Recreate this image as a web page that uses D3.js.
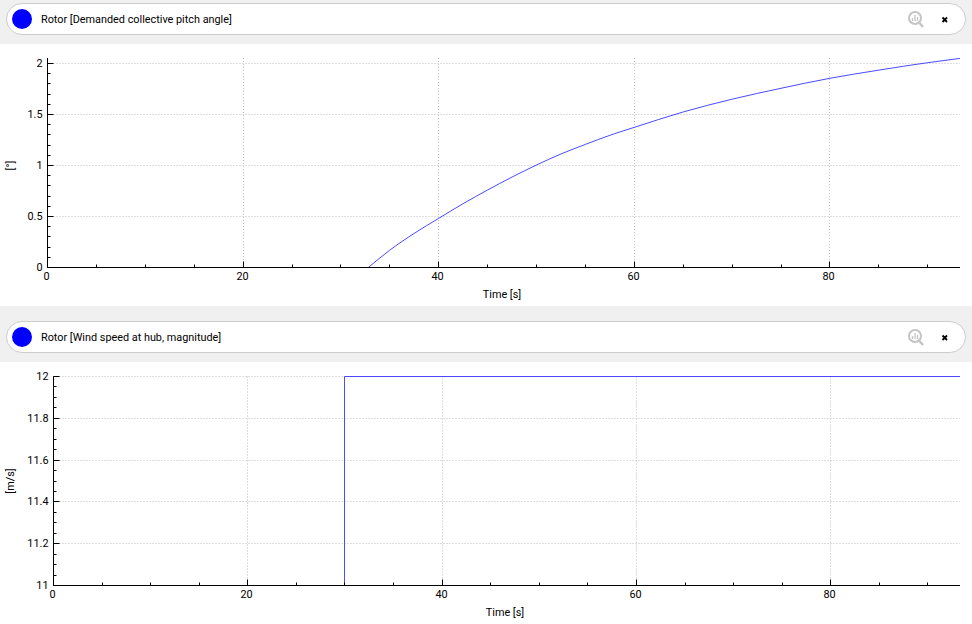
<!DOCTYPE html>
<html lang="en">
<head>
    <meta charset="UTF-8">
    <title>Rotor plots</title>
    <style>
        html, body { margin: 0; padding: 0; background: #f0f0f0; overflow: hidden; }
        text { font-family: Roboto, sans-serif; font-size: 10.85px; fill: #000; }
    </style>
</head>
<body>
<div id="content"></div>

<script src="https://d3js.org/d3.v4.min.js"></script>
<script>

    // values
    var pitchTime = [32.8, 35, 37.5, 40, 42.5, 45, 47.5, 50, 52.5, 55, 57.5, 60, 65, 70, 75, 80, 85, 90, 93.3];
    var pitchValue = [0, 0.17, 0.335, 0.482, 0.626, 0.76, 0.887, 1.005, 1.113, 1.207, 1.296, 1.374, 1.525, 1.65, 1.757, 1.855, 1.935, 2.008, 2.05];
    var windTime = [0, 29.95, 29.95, 93.3];
    var windValue = [11, 11, 12, 12];

    var xMajor = [0, 20, 40, 60, 80];
    var pitchTicks = [0, 0.5, 1, 1.5, 2];
    var windTicks = [11, 11.2, 11.4, 11.6, 11.8, 12];

    var width = 972, height = 624;

    var svg = d3.select("#content")
        .append("svg")
        .attr("width", width)
        .attr("height", height)
        .style("display", "block");

    svg.append("rect")
        .attr("width", width)
        .attr("height", height)
        .attr("fill", "#f0f0f0");

    function range(from, to, step) {
        var out = [];
        for (var v = from; v <= to + step / 1000; v += step) out.push(+v.toFixed(4));
        return out;
    }

    // keep 1px lines on the pixel grid so the dots stay crisp
    function snap(v) {
        return Math.floor(v) + 0.5;
    }

    function createHeader(top, label) {
        var g = svg.append("g").attr("transform", "translate(0," + top + ")");

        g.append("rect")
            .attr("x", 6.5).attr("y", 0.5)
            .attr("width", 959).attr("height", 31)
            .attr("rx", 15.5)
            .attr("fill", "#fff")
            .attr("stroke", "#cdcdcd");

        g.append("circle")
            .attr("cx", 22).attr("cy", 16).attr("r", 10)
            .attr("fill", "#0000ff");

        g.append("text")
            .attr("x", 41).attr("y", 20)
            .text(label);

        // zoom icon
        var icon = g.append("g").attr("fill", "none").attr("stroke", "#c4c4c4");
        icon.append("circle").attr("cx", 915).attr("cy", 15).attr("r", 6).attr("stroke-width", 2);
        icon.append("path").attr("d", "M919.5,20L923,24").attr("stroke-width", 2.4);
        icon.append("path").attr("d", "M912.5,18V15M915,18V12M917.5,18V14").attr("stroke-width", 1.3);

        // close button
        g.append("path")
            .attr("d", "M942.5,14.5L947,19M947,14.5L942.5,19")
            .attr("stroke", "#000")
            .attr("stroke-width", 1.8);
    }

    function createPlot(o) {
        var plot = svg.append("g");

        plot.append("rect")
            .attr("x", 0).attr("y", o.panelTop)
            .attr("width", width).attr("height", o.panelBottom - o.panelTop)
            .attr("fill", "#fff");

        var xScale = d3.scaleLinear().domain([0, 93.3]).range([o.left, 960]);
        var yScale = d3.scaleLinear().domain(o.yDomain).range([o.bottom, o.yTop]);

        // dotted grid
        var grid = plot.append("g")
            .attr("stroke", "#bdbdbd")
            .attr("stroke-dasharray", "1,2")
            .attr("stroke-width", 1);
        xMajor.slice(1).forEach(function (t) {
            grid.append("line")
                .attr("x1", snap(xScale(t))).attr("x2", snap(xScale(t)))
                .attr("y1", o.axisTop).attr("y2", o.bottom);
        });
        o.yTicks.slice(1).forEach(function (t) {
            grid.append("line")
                .attr("x1", o.left).attr("x2", 960)
                .attr("y1", snap(yScale(t))).attr("y2", snap(yScale(t)));
        });

        var line = d3.line()
            .curve(o.smooth ? d3.curveMonotoneX : d3.curveLinear)
            .x(function (d) { return xScale(d.x); })
            .y(function (d) { return yScale(d.y); });

        var xyData = o.xs.map(function (x, i) { return {x: x, y: o.ys[i]}; });

        plot.append("path")
            .datum(xyData)
            .attr("d", line)
            .attr("fill", "none")
            .attr("stroke", "#4a4aff")
            .attr("stroke-width", 1);

        // axes, ticks point into the plot
        var xMinor = d3.axisBottom(xScale).tickValues(range(0, 90, 5)).tickSize(-3).tickFormat("");
        var xAxis = d3.axisBottom(xScale).tickValues(xMajor).tickSize(-6).tickFormat(d3.format("d"));
        var yMinor = d3.axisLeft(yScale).tickValues(o.yMinor).tickSize(-3).tickFormat("");
        var yAxis = d3.axisLeft(yScale).tickValues(o.yTicks).tickSize(-6).tickFormat(d3.format("~g"));

        var xGs = [xMinor, xAxis].map(function (axis) {
            var g = plot.append("g").attr("transform", "translate(0," + o.bottom + ")").call(axis);
            g.selectAll(".tick").attr("transform", function (d) {
                return "translate(" + snap(xScale(d)) + ",0)";
            });
            return g;
        });
        var yGs = [yMinor, yAxis].map(function (axis) {
            var g = plot.append("g").attr("transform", "translate(" + o.left + ",0)").call(axis);
            g.selectAll(".tick").attr("transform", function (d) {
                return "translate(0," + snap(yScale(d)) + ")";
            });
            return g;
        });
        var xG = xGs[1], yG = yGs[1];

        plot.selectAll(".domain").remove();
        plot.append("line")
            .attr("x1", o.left).attr("x2", 960)
            .attr("y1", o.bottom).attr("y2", o.bottom)
            .attr("stroke", "#000");
        plot.append("line")
            .attr("x1", o.left).attr("x2", o.left)
            .attr("y1", o.axisTop).attr("y2", o.bottom)
            .attr("stroke", "#000");

        xG.selectAll("text").attr("x", -1).attr("y", 5).attr("dy", "0.71em");
        yG.selectAll("text").attr("x", -5);
        xG.attr("font-size", null).attr("font-family", null);
        yG.attr("font-size", null).attr("font-family", null);

        plot.append("text")
            .attr("x", o.timeX).attr("y", o.bottom + 30)
            .attr("text-anchor", "middle")
            .text("Time [s]");

        plot.append("text")
            .attr("transform", "translate(14," + (o.yTop + o.bottom) / 2 + ") rotate(-90)")
            .attr("text-anchor", "middle")
            .text(o.yLabel);
    }

    createHeader(3, "Rotor [Demanded collective pitch angle]");
    createHeader(321, "Rotor [Wind speed at hub, magnitude]");

    createPlot({
        panelTop: 44, panelBottom: 306,
        left: 47.5, bottom: 267.5, yTop: 63.5, axisTop: 58,
        yDomain: [0, 2],
        yTicks: pitchTicks, yMinor: range(0, 2, 0.1),
        xs: pitchTime, ys: pitchValue, smooth: true,
        timeX: 502, yLabel: "[°]"
    });

    createPlot({
        panelTop: 362, panelBottom: 624,
        left: 53.5, bottom: 585.5, yTop: 376.5, axisTop: 376.5,
        yDomain: [11, 12],
        yTicks: windTicks, yMinor: range(11, 12, 0.05),
        xs: windTime, ys: windValue, smooth: false,
        timeX: 505, yLabel: "[m/s]"
    });

</script>
</body>
</html>
